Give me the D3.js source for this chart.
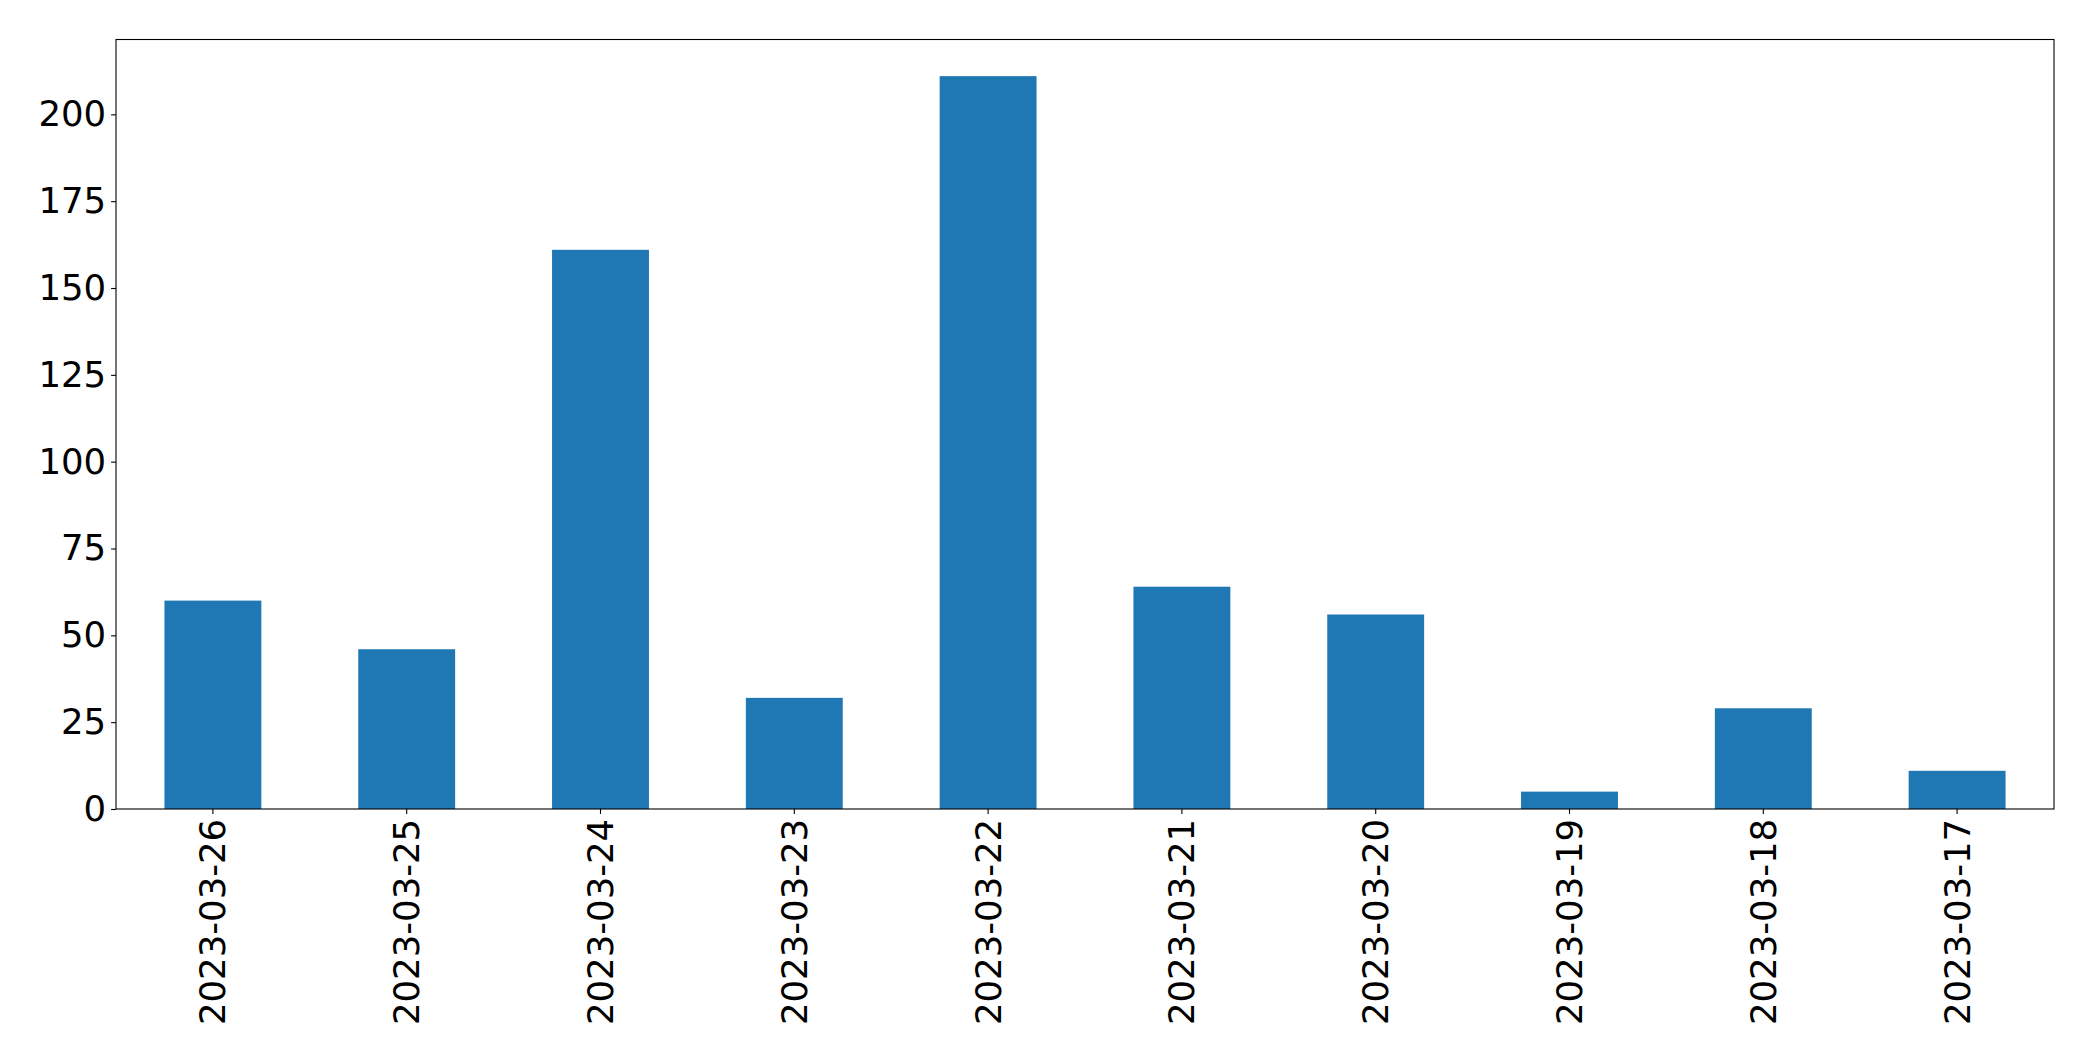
<!DOCTYPE html>
<html>
<head>
<meta charset="utf-8">
<script src="https://cdn.jsdelivr.net/npm/d3@7"></script>
<style>
  html, body { margin: 0; padding: 0; background: #fff; }
  svg { display: block; }
  text { font-family: "DejaVu Sans", sans-serif; fill: #000; }
</style>
</head>
<body>
<svg id="chart" width="2093" height="1061"></svg>
<script>
const categories = ["2023-03-26","2023-03-25","2023-03-24","2023-03-23","2023-03-22","2023-03-21","2023-03-20","2023-03-19","2023-03-18","2023-03-17"];
const values = [60, 46, 161, 32, 211, 64, 56, 5, 29, 11];
const yTicks = [0, 25, 50, 75, 100, 125, 150, 175, 200];

const W = 2093, H = 1061;
const margin = { left: 116, right: 2093 - 2054, top: 39.5, bottom: 1061 - 809 };
const svg = d3.select("#chart");
const pw = W - margin.left - margin.right;
const ph = H - margin.top - margin.bottom;
const g = svg.append("g").attr("transform", `translate(${margin.left},${margin.top})`);

const x = d3.scaleBand().domain(categories).range([0, pw]).paddingInner(0.5).paddingOuter(0.25);
const yMax = d3.max(values) * 1.05;
const y = d3.scaleLinear().domain([0, yMax]).range([ph, 0]);

g.selectAll("rect.bar").data(values).enter().append("rect")
  .attr("class", "bar")
  .attr("x", (d, i) => x(categories[i]))
  .attr("width", x.bandwidth())
  .attr("y", d => y(d))
  .attr("height", d => y(0) - y(d))
  .attr("fill", "#1f77b4");

const fs = 35.5;
const yAxis = g.append("g").call(d3.axisLeft(y).tickValues(yTicks).tickSize(4.9).tickPadding(4.9).tickFormat(d3.format("d")));
yAxis.select(".domain").remove();
yAxis.selectAll("line").attr("stroke", "#000").attr("stroke-width", 1.1);
yAxis.selectAll("text").style("font-size", fs + "px").attr("font-family", "DejaVu Sans");

const xAxis = g.append("g").attr("transform", `translate(0,${ph})`)
  .call(d3.axisBottom(x).tickSize(4.9).tickPadding(4.9));
xAxis.select(".domain").remove();
xAxis.selectAll("line").attr("stroke", "#000").attr("stroke-width", 1.1);
xAxis.selectAll("text")
  .style("font-size", fs + "px")
  .attr("font-family", "DejaVu Sans")
  .attr("text-anchor", "end")
  .attr("dy", "0.35em")
  .attr("transform", "rotate(-90)")
  .attr("x", -9.8)
  .attr("y", 0);

g.append("rect").attr("x", 0).attr("y", 0).attr("width", pw).attr("height", ph)
  .attr("fill", "none").attr("stroke", "#000").attr("stroke-width", 1.1);
</script>
</body>
</html>
